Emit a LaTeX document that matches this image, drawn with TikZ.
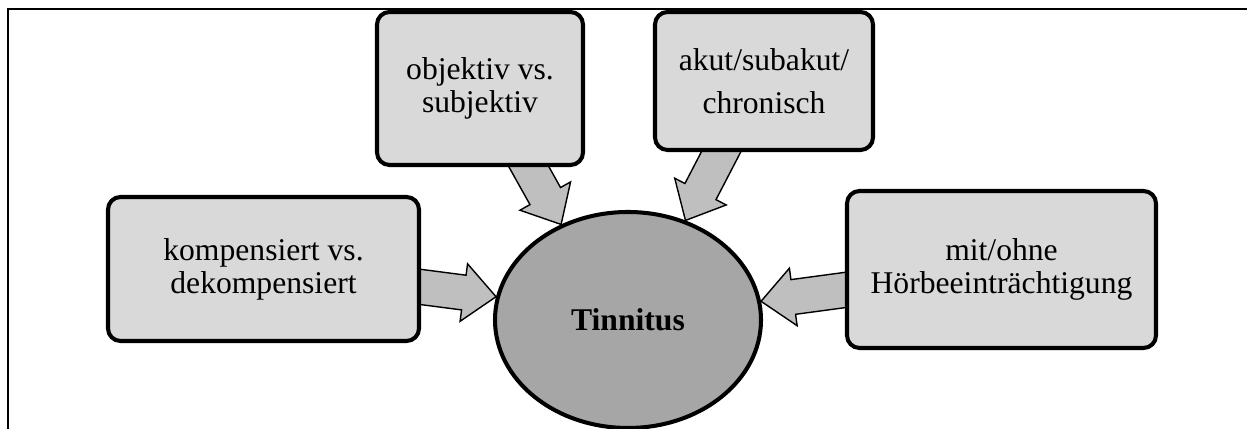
\documentclass[tikz,border=0pt]{standalone}
\usepackage{fontspec}
\setmainfont{Liberation Serif}
\usetikzlibrary{calc,shapes.geometric}
\definecolor{BoxGray}{HTML}{D9D9D9}
\definecolor{CoreGray}{HTML}{A6A6A6}
\definecolor{ArrowGray}{HTML}{BFBFBF}
\pgfdeclarelayer{bottom}
\pgfdeclarelayer{back}
\pgfsetlayers{bottom,back,main}

\newcommand{\blockarrow}[2]{%
  \begin{pgfonlayer}{back}
    \coordinate (bt) at ($(#1)!-0.3cm!(#2)$);
    \coordinate (bh) at ($(#2)!0.65cm!(#1)$);
    \draw[fill=ArrowGray,line width=0.8pt]
      ($(bt)!0.35cm!90:(#2)$) -- ($(bh)!0.35cm!90:(#2)$) -- ($(bh)!0.58cm!90:(#2)$)
      -- (#2) -- ($(bh)!0.58cm!-90:(#2)$) -- ($(bh)!0.35cm!-90:(#2)$)
      -- ($(bt)!0.35cm!-90:(#2)$) -- cycle;
  \end{pgfonlayer}}

\begin{document}
\begin{tikzpicture}[every node/.style={font=\fontsize{18}{18.8}\selectfont,align=center},
  topic/.style={draw,line width=2.3pt,rounded corners=0.25cm,fill=BoxGray}]
  \useasboundingbox (0,0) rectangle (24.94,8.58);
  \draw[line width=0.8pt] (0.16,0) -- (0.16,8.40) -- (24.94,8.40);

  \begin{pgfonlayer}{bottom}
    \node[draw,ellipse,line width=2.3pt,fill=CoreGray,minimum width=5.32cm,minimum height=4.32cm] (tinn) at (12.56,2.18) {\textbf{Tinnitus}};
  \end{pgfonlayer}

  \node[topic,minimum width=6.22cm,minimum height=2.88cm] (komp) at (5.27,3.20) {kompensiert vs.\\dekompensiert};
  \node[topic,minimum width=4.12cm,minimum height=3.06cm] (obj) at (9.60,6.81) {objektiv vs.\\subjektiv};
  \node[topic,minimum width=4.36cm,minimum height=2.76cm] (akut) at (15.28,6.96) {akut/subakut/\\[5.7pt]chronisch};
  \node[topic,minimum width=6.18cm,minimum height=3.14cm] (mit) at (20.03,3.19) {mit/ohne\\Hörbeeinträchtigung};

  \coordinate (kompout) at ($(komp.east)+(0,-0.36)$);
  \coordinate (objout) at ($(obj.south)+(0.98,0)$);
  \coordinate (akutout) at ($(akut.south)+(-0.86,0)$);
  \coordinate (mitout) at ($(mit.west)+(0,-0.41)$);
  \blockarrow{kompout}{tinn.170}
  \blockarrow{objout}{tinn.125}
  \blockarrow{akutout}{tinn.60}
  \blockarrow{mitout}{tinn.8}
\end{tikzpicture}
\end{document}
